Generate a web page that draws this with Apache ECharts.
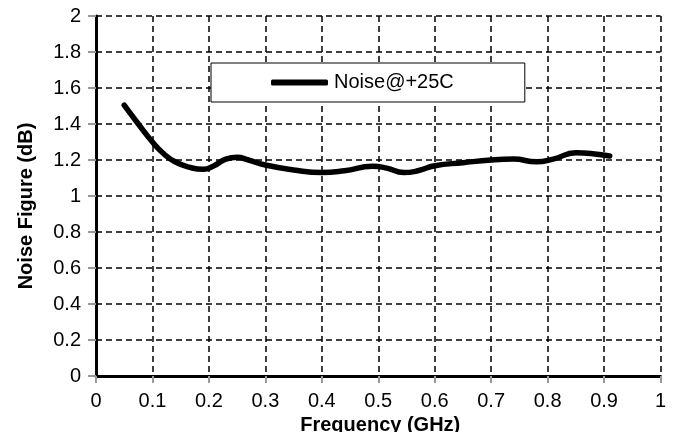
<!DOCTYPE html>
<html><head><meta charset="utf-8">
<script src="https://cdn.jsdelivr.net/npm/echarts@6/dist/echarts.min.js"></script>
<style>html,body{margin:0;padding:0;background:#fff}#c{width:674px;height:432px}</style>
</head><body><div id="c"></div>
<script>
const freq = [0.05,0.075,0.1,0.12,0.14,0.165,0.19,0.21,0.23,0.25,0.27,0.3,0.35,0.4,0.44,0.49,0.515,0.545,0.57,0.6,0.65,0.7,0.74,0.78,0.81,0.85,0.88,0.91];
const noise = [1.505,1.40,1.30,1.235,1.19,1.16,1.148,1.17,1.205,1.215,1.20,1.172,1.145,1.13,1.14,1.165,1.155,1.13,1.14,1.168,1.185,1.2,1.205,1.19,1.205,1.24,1.235,1.222];
const seriesName = 'Noise@+25C';
const font = 'Liberation Sans, Arial, sans-serif';
const chart = echarts.init(document.getElementById('c'));
const splitDash = {show:true,lineStyle:{color:'#000',width:1.5,type:[6,4]}};
chart.setOption({
  animation:false,
  grid:{left:96,right:13.5,top:16,bottom:56,containLabel:false,outerBoundsMode:'none'},
  legend:{
    left:211, top:63,
    data:[seriesName],
    icon:'roundRect', itemWidth:57, itemHeight:6, itemGap:0,
    padding:[9.5,71,9.5,60],
    borderColor:'#000', borderWidth:1, backgroundColor:'#fff',
    textStyle:{fontFamily:font,fontSize:20,color:'#000',padding:[0,0,0,1]}
  },
  xAxis:[{
    type:'value', min:0, max:1, interval:0.1,
    name:'Frequency (GHz)', nameLocation:'middle', nameGap:36,
    nameTextStyle:{fontFamily:font,fontSize:20,fontWeight:'bold',color:'#000',padding:[0,0,0,4]},
    axisLine:{show:true,lineStyle:{color:'#666',width:2}},
    axisTick:{show:true,length:7,lineStyle:{color:'#999',width:2}},
    axisLabel:{fontFamily:font,fontSize:20,color:'#000',margin:15},
    splitLine:splitDash
  },{
    type:'value', min:0, max:1, interval:0.1, position:'top',
    axisLine:{show:true,lineStyle:{color:'#000',width:3}},
    axisTick:{show:false}, axisLabel:{show:false}, splitLine:{show:false}
  }],
  yAxis:[{
    type:'value', min:0, max:2, interval:0.2,
    name:'Noise Figure (dB)', nameLocation:'middle', nameGap:60,
    nameTextStyle:{fontFamily:font,fontSize:20,fontWeight:'bold',color:'#000',padding:[0,20,0,0]},
    axisLine:{show:true,lineStyle:{color:'#666',width:2}},
    axisTick:{show:true,length:8,lineStyle:{color:'#999',width:2}},
    axisLabel:{fontFamily:font,fontSize:20,color:'#000',margin:15},
    splitLine:splitDash
  },{
    type:'value', min:0, max:2, interval:0.2, position:'right',
    axisLine:{show:true,lineStyle:{color:'#000',width:3}},
    axisTick:{show:false}, axisLabel:{show:false}, splitLine:{show:false}
  }],
  series:[{
    name:seriesName, type:'line', smooth:0.5, symbol:'none', showSymbol:false,
    data:freq.map((f,i)=>[f,noise[i]]),
    lineStyle:{color:'#000',width:5.5,cap:'round'},
    itemStyle:{color:'#000'}
  }]
});
</script></body></html>
